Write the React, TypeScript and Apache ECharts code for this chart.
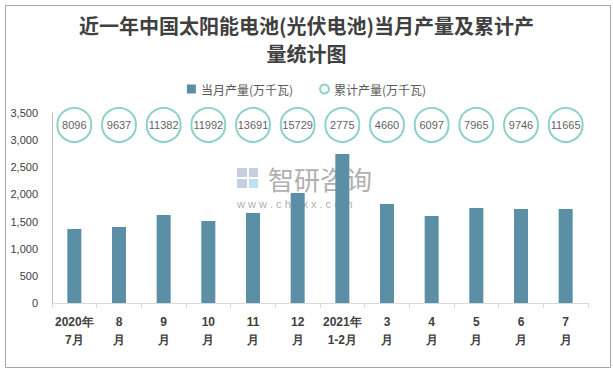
import React, { useEffect, useRef } from "react";
import * as echarts from "echarts";

const categories = [
  "2020年\n7月", "8\n月", "9\n月", "10\n月", "11\n月", "12\n月",
  "2021年\n1-2月", "3\n月", "4\n月", "5\n月", "6\n月", "7\n月",
];
const monthlyOutput = [1363, 1400, 1621, 1511, 1658, 2026, 2745, 1824, 1603, 1750, 1732, 1732];
const cumulativeOutput = [8096, 9637, 11382, 11992, 13691, 15729, 2775, 4660, 6097, 7965, 9746, 11665];
const yTicks = { min: 0, max: 3500, interval: 500 };
const bubbleRowValue = 3280;
const titleLines = ["近一年中国太阳能电池(光伏电池)当月产量及累计产", "量统计图"];

const barColor = "#5b8fa6";
const ringColor = "#6fc6bd";

export default function App() {
  const ref = useRef<HTMLDivElement>(null);
  useEffect(() => {
    document.body.style.margin = "0";
    const chart = echarts.init(ref.current!, undefined, { renderer: "svg" });
    const titleStyle = {
      fontFamily: "Noto Sans CJK SC",
      fontSize: 20,
      fontWeight: "bold",
      color: "#404040",
      lineHeight: 22,
    };
    chart.setOption({
      animation: false,
      backgroundColor: "#ffffff",
      title: [
        { text: titleLines[0], left: "center", top: 14, padding: 0, textStyle: titleStyle },
        { text: titleLines[1], left: "center", top: 42, padding: 0, textStyle: titleStyle },
      ],
      legend: {
        top: 78,
        left: "center",
        itemGap: 26,
        itemWidth: 9,
        itemHeight: 9,
        textStyle: { fontFamily: "Noto Sans CJK SC", fontSize: 12, color: "#595959" },
        data: [
          { name: "当月产量(万千瓦)", icon: "rect" },
          { name: "累计产量(万千瓦)", icon: "emptyCircle" },
        ],
      },
      grid: { left: 52, right: 25, top: 113, bottom: 69 },
      xAxis: {
        type: "category",
        data: categories,
        axisLine: { lineStyle: { color: "#d9d9d9" } },
        axisTick: { show: true, length: 5, lineStyle: { color: "#d9d9d9" } },
        axisLabel: {
          interval: 0,
          fontFamily: "Liberation Sans",
          fontSize: 12,
          fontWeight: "bold",
          color: "#404040",
          lineHeight: 18,
          margin: 10,
        },
      },
      yAxis: {
        type: "value",
        min: yTicks.min,
        max: yTicks.max,
        interval: yTicks.interval,
        axisLine: { show: true, lineStyle: { color: "#bfbfbf" } },
        axisTick: { show: false },
        splitLine: { show: false },
        axisLabel: {
          fontFamily: "Liberation Sans",
          fontSize: 11,
          color: "#404040",
          margin: 14,
          formatter: (v: number) => v.toLocaleString("en-US"),
        },
      },
      graphic: [
        {
          type: "rect",
          left: 3,
          top: 3,
          z: 0,
          shape: { x: 0, y: 0, width: 605, height: 362 },
          style: { fill: "none", stroke: "#a6a6a6", lineWidth: 1 },
        },
        {
          type: "group",
          left: 237,
          top: 165,
          z: 0,
          children: [
            { type: "rect", shape: { x: 0, y: 3, width: 10, height: 9 }, style: { fill: "#c5cfdf" } },
            { type: "rect", shape: { x: 12, y: 3, width: 9, height: 9 }, style: { fill: "#c5cfdf" } },
            { type: "rect", shape: { x: 0, y: 14, width: 10, height: 9 }, style: { fill: "#c5cfdf" } },
            { type: "rect", shape: { x: 12, y: 14, width: 9, height: 9 }, style: { fill: "#bfe0f2" } },
            {
              type: "text",
              x: 31,
              y: 0,
              style: { text: "智研咨询", fontFamily: "Noto Sans CJK SC", fontSize: 26, fill: "#b0b0b0" },
            },
            {
              type: "text",
              x: 0,
              y: 33,
              style: { text: "w w w . c h y x x . c o m", fontFamily: "Liberation Sans", fontSize: 11, fill: "#b0b0b0" },
            },
          ],
        },
      ],
      series: [
        {
          name: "当月产量(万千瓦)",
          type: "bar",
          data: monthlyOutput,
          barWidth: 14,
          itemStyle: { color: barColor },
          z: 2,
        },
        {
          name: "累计产量(万千瓦)",
          type: "scatter",
          data: cumulativeOutput.map((v, i) => [i, bubbleRowValue, v]),
          symbol: "emptyCircle",
          symbolSize: 34,
          itemStyle: { color: ringColor, borderWidth: 1 },
          label: {
            show: true,
            position: "inside",
            formatter: (p: any) => String(p.value[2]),
            fontFamily: "Liberation Sans",
            fontSize: 11,
            color: "#333333",
          },
          z: 3,
        },
      ],
    });
    return () => chart.dispose();
  }, []);
  return <div ref={ref} style={{ width: 613, height: 372 }} />;
}
